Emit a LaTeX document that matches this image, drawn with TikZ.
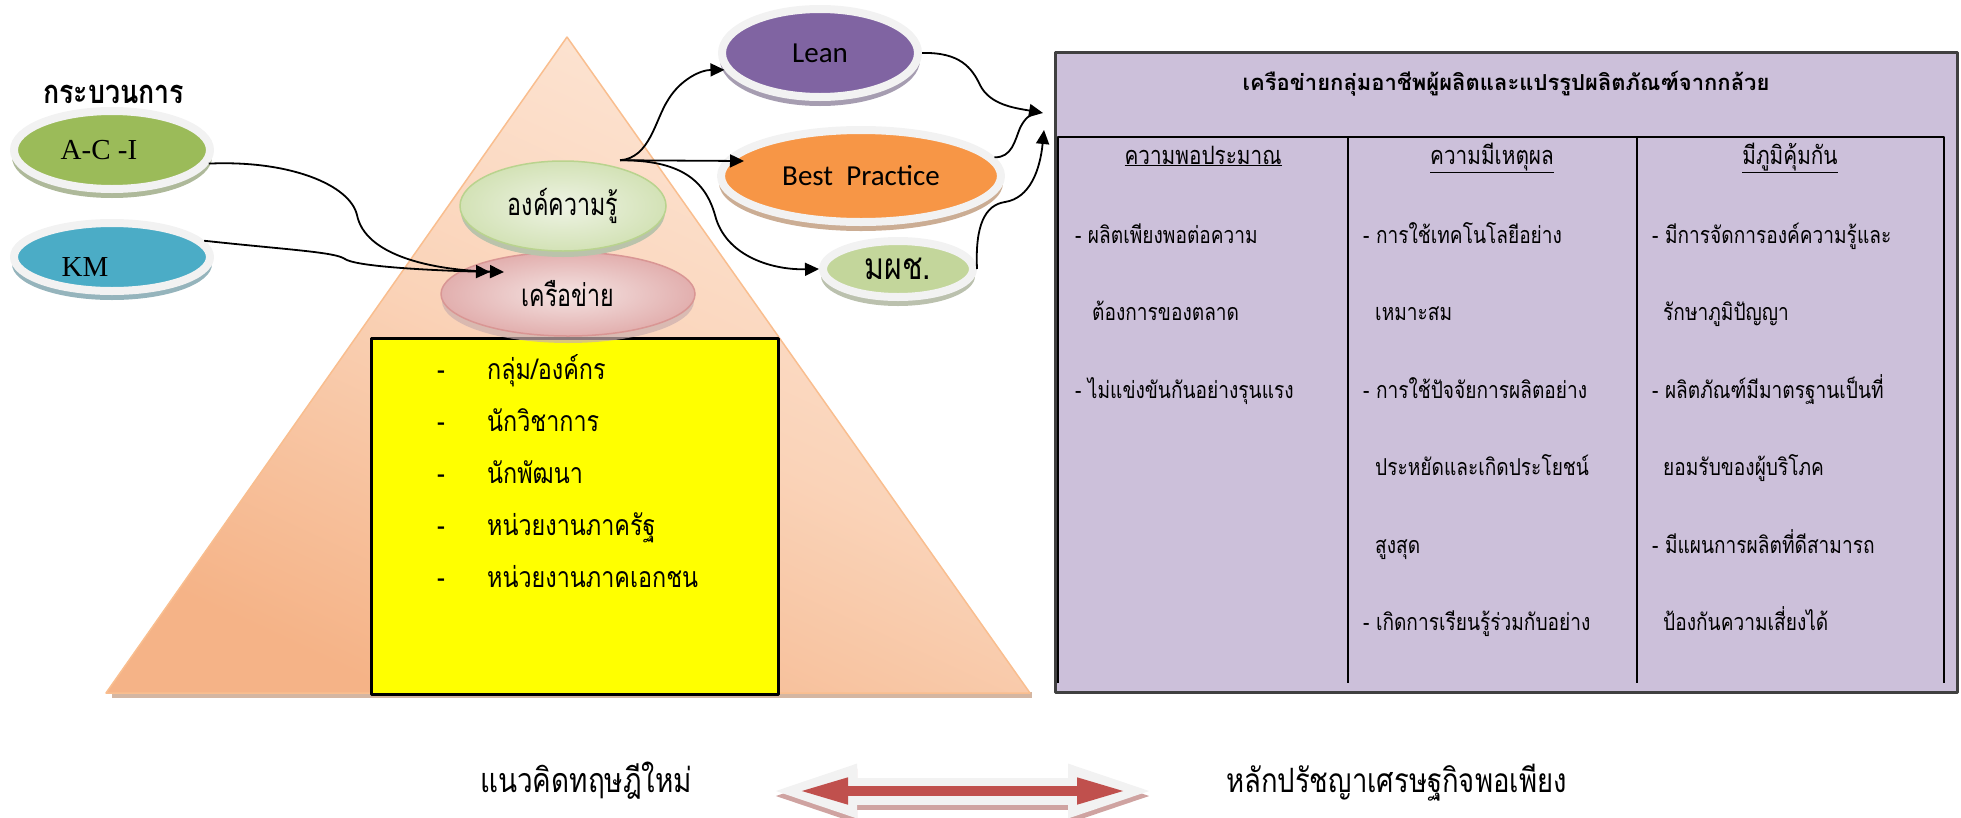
\documentclass[tikz,border=0pt]{standalone}
\usepackage{fontspec}
\usetikzlibrary{shapes.geometric,arrows.meta,calc}
\newfontfamily\thai[Script=Thai]{Loma}
\newfontfamily\thainar[Script=Thai,FakeStretch=0.82]{Loma}
\newfontfamily\thaitall[Script=Thai,FakeStretch=0.75]{Loma}
\newfontfamily\timesf{Liberation Serif}
\newfontfamily\calibf{Carlito}
\newcommand{\fsz}[1]{\fontsize{#1}{#1}\selectfont}
\definecolor{cAci}{HTML}{9BBB59}
\definecolor{cKm}{HTML}{4BACC6}
\definecolor{cLean}{HTML}{8064A2}
\definecolor{cBest}{HTML}{F79646}
\definecolor{cMpc}{HTML}{C3D69B}
\definecolor{cYel}{HTML}{FFFF00}
\definecolor{rimgray}{HTML}{F2F2F2}
\definecolor{cBox}{HTML}{CCC0DA}
\definecolor{boxline}{HTML}{404040}
\definecolor{cRed}{HTML}{C0504D}
\definecolor{knowIn}{HTML}{EEF3E4}
\definecolor{knowOut}{HTML}{D3E2B6}
\definecolor{knowLine}{HTML}{B9D38E}
\definecolor{netIn}{HTML}{F4E3E2}
\definecolor{netOut}{HTML}{E2AFAE}
\definecolor{netLine}{HTML}{D99694}
\definecolor{pyTop}{HTML}{FDE6D6}
\definecolor{pyMid}{HTML}{FAD3B8}
\definecolor{pyBot}{HTML}{F5B387}
\definecolor{pyLine}{HTML}{F9BE8F}
\definecolor{pyEdge}{HTML}{D4B6A2}
\definecolor{arrEdge}{HTML}{CFA3A1}
\begin{document}
\begin{tikzpicture}[x=1pt,y=-1pt,line join=round]
  \tikzstyle{disc}=[ellipse,inner sep=0pt,draw=rimgray,line width=8pt,font=\fsz{29}]
  \tikzstyle{bulge}=[ellipse,inner sep=0pt,line width=1.5pt,font=\thaitall\fsz{31}]
  \tikzstyle{link}=[line width=1.8pt,-{Triangle[length=14pt,width=13pt]}]
  \tikzstyle{listtext}=[anchor=base west,inner sep=0pt,font=\thainar\fsz{28.5}]
  \tikzstyle{cell}=[anchor=base west,inner sep=0pt,font=\thainar\fsz{23.3}]
  \tikzstyle{head}=[anchor=base,inner sep=0pt,font=\thainar\fsz{25.3}]
  \tikzstyle{rule}=[line width=2.5pt]
  \useasboundingbox (0,0) rectangle (1961,817);

  % pyramid
  \fill[pyEdge] (112,692) rectangle (1032,698);
  \draw[pyLine,line width=1.5pt,top color=pyTop,bottom color=pyBot,middle color=pyMid,shading angle=-25]
    (567,37) -- (1030,693) -- (106,693) -- cycle;

  % list of members
  \node[draw,fill=cYel,line width=2.5pt,minimum width=407,minimum height=356,
        anchor=north west,inner sep=0pt] (B_list) at (370,337) {};
  \foreach \t [count=\i] in {กลุ่ม/องค์กร,นักวิชาการ,นักพัฒนา,หน่วยงานภาครัฐ,หน่วยงานภาคเอกชน}
  {
    \node[listtext] (D_\i) at (437,{379+52*(\i-1)}) {-};
    \node[listtext] (L_\i) at (487,{379+52*(\i-1)}) {\t};
  }

  % knowledge and network
  \fill[netLine!60!gray!70!white,opacity=.7] (568,301) ellipse [x radius=126, y radius=42];
  \node[bulge,draw=netLine,inner color=netIn,outer color=netOut,
        minimum width=254,minimum height=84] (E_net) at (568,294) {เครือข่าย};
  \fill[knowLine!50!gray!70!white] (563,212) ellipse [x radius=102, y radius=45];
  \node[bulge,draw=knowLine,inner color=knowIn,outer color=knowOut,
        minimum width=206,minimum height=90] (E_know) at (563,206) {องค์ความรู้};

  % discs
  \foreach \nm/\x/\y/\rx/\ry/\col/\txt in {
      aci/112/150/94/35/cAci/{\timesf A-C -I\rule{26pt}{0pt}},
      km/112/257/94/30/cKm/{\raisebox{-10pt}[\height][\depth]{\timesf KM}\rule{54pt}{0pt}},
      lean/820/53/94/40/cLean/{\calibf Lean},
      best/861/176/136/42/cBest/{\calibf Best\ \ Practice},
      mpc/898/269/71/24/cMpc/{\thainar\fsz{37}มผช.}}
  {
    \fill[\col!45!gray!70!white] (\x,{\y+7}) ellipse [x radius=\rx+6, y radius=\ry+6];
    \node[disc,fill=\col,minimum width=2*\rx+8,minimum height=2*\ry+8] (E_\nm) at (\x,\y) {\txt};
  }

  \node[anchor=base west,inner sep=0pt,font=\thainar\bfseries\fsz{32.6}] (T_proc) at (43,103) {กระบวนการ};

  % sufficiency box
  \node[draw=boxline,fill=cBox,line width=2.5pt,minimum width=902,minimum height=640,
        anchor=north west,inner sep=0pt] (B_main) at (1054,51) {};
  \node[anchor=base,inner sep=0pt,font=\thai\bfseries\fsz{22}] (B_title) at (1506,90)
    {เครือข่ายกลุ่มอาชีพผู้ผลิตและแปรรูปผลิตภัณฑ์จากกล้วย};
  \draw[rule] (1058,683) -- (1058,137) -- (1944,137) -- (1944,683);
  \foreach \x in {1348,1637}
    \draw[rule] (\x,137) -- (\x,683);
  \node[head] (H_1) at (1203,164) {\underline{ความพอประมาณ}};
  \node[head] (H_2) at (1492,164) {\underline{ความมีเหตุผล}};
  \node[head] (H_3) at (1790,164) {\underline{มีภูมิคุ้มกัน}};
  \foreach \x/\t [count=\i] in {1075/- ผลิตเพียงพอต่อความ,1092/ต้องการของตลาด,1075/- ไม่แข่งขันกันอย่างรุนแรง}
    \node[cell] (C1_\i) at (\x,{243+77.5*(\i-1)}) {\t};
  \foreach \x/\t [count=\i] in {1363/- การใช้เทคโนโลยีอย่าง,1375/เหมาะสม,1363/- การใช้ปัจจัยการผลิตอย่าง,
      1375/ประหยัดและเกิดประโยชน์,1375/สูงสุด,1363/- เกิดการเรียนรู้ร่วมกับอย่าง}
    \node[cell] (C2_\i) at (\x,{243+77.5*(\i-1)}) {\t};
  \foreach \x/\t [count=\i] in {1652/- มีการจัดการองค์ความรู้และ,1663/รักษาภูมิปัญญา,1652/- ผลิตภัณฑ์มีมาตรฐานเป็นที่,
      1663/ยอมรับของผู้บริโภค,1652/- มีแผนการผลิตที่ดีสามารถ,1663/ป้องกันความเสี่ยงได้}
    \node[cell] (C3_\i) at (\x,{243+77.5*(\i-1)}) {\t};

  % connectors
  \coordinate (net_a) at ($(E_net.center)+(-64,-22)$);
  \coordinate (net_b) at ($(E_net.center)+(-78,-22)$);
  \coordinate (kout) at ($(E_know.north)+(57,0)$);
  \coordinate (bp_in) at ($(E_best.west)+(27,-15)$);
  \coordinate (box_a) at ($(B_main.north west)+(-11,62)$);
  \coordinate (box_b) at ($(B_main.north west)+(-10,79)$);
  \draw[link] (E_aci.-8) .. controls (290,160) and (350,185) .. (357,215)
    .. controls (365,255) and (430,270) .. (net_a);
  \draw[link] (E_km.10) .. controls (290,250) and (335,252) .. (345,259)
    .. controls (355,266) and (420,270) .. (net_b);
  \draw[link] (kout) .. controls (650,158) and (655,120) .. (668,100)
    .. controls (680,80) and (700,70) .. (E_lean.190);
  \draw[link] (kout) -- (bp_in);
  \draw[link] (kout) .. controls (680,160) and (705,180) .. (715,215)
    .. controls (725,255) and (770,270) .. (E_mpc.west);
  \draw[link] (E_lean.east) .. controls (960,52) and (972,68) .. (980,85)
    .. controls (990,105) and (1015,108) .. (box_a);
  \draw[line width=1.8pt,shorten >=6pt] (E_best.8) .. controls (1012,158) and (1015,140) .. (1020,128)
    .. controls (1025,118) and (1030,114) .. (box_a);
  \draw[link] (E_mpc.east) .. controls (975,225) and (985,205) .. (1005,202)
    .. controls (1030,198) and (1040,170) .. (box_b);

  % bottom
  \node[anchor=base west,inner sep=0pt,font=\thainar\fsz{34}] (T_left) at (480,792) {แนวคิดทฤษฎีใหม่};
  \node[anchor=base west,inner sep=0pt,font=\thainar\fsz{33.5}] (T_right) at (1226,792) {หลักปรัชญาเศรษฐกิจพอเพียง};
  \coordinate (A_l) at (760,791);
  \coordinate (A_r) at (1165,791);
  \draw[arrEdge,line width=27pt,{Triangle[length=97pt,width=45pt]}-{Triangle[length=97pt,width=45pt]}]
    ([yshift=-5pt]A_l) -- ([yshift=-5pt]A_r);
  \draw[rimgray,line width=27pt,{Triangle[length=97pt,width=45pt]}-{Triangle[length=97pt,width=45pt]}]
    (A_l) -- (A_r);
  \draw[cRed,line width=10pt,{Triangle[length=50pt,width=24pt]}-{Triangle[length=50pt,width=24pt]}]
    ([xshift=38pt]A_l) -- ([xshift=-38pt]A_r);
\end{tikzpicture}
\end{document}
